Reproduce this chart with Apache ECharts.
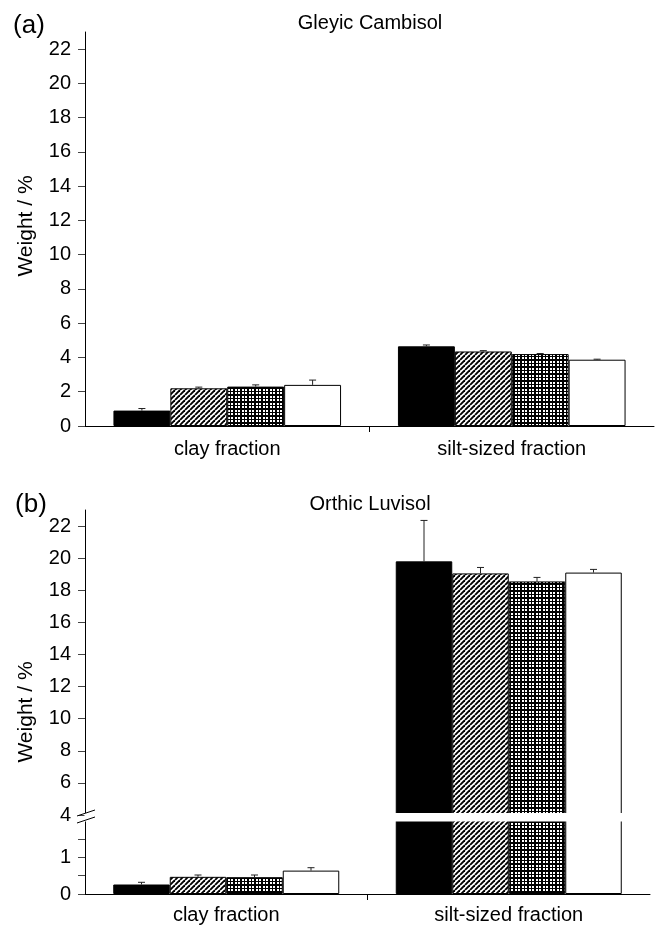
<!DOCTYPE html>
<html><head><meta charset="utf-8">
<script src="https://cdn.jsdelivr.net/npm/echarts@6/dist/echarts.min.js"></script>
<style>html,body{margin:0;padding:0;background:#fff}#c{width:658px;height:925px}</style>
</head><body><div id="c"></div>
<script>
// ---- data ----
const categories = ['clay fraction', 'silt-sized fraction'];
// four treatments (black, hatched, checkered, white)
const cambisolClay = [0.9, 2.2, 2.3, 2.4];
const cambisolClayErr = [0.12, 0.07, 0.1, 0.28];
const cambisolSilt = [4.65, 4.35, 4.2, 3.87];
const cambisolSiltErr = [0.08, 0.05, 0.03, 0.03];
const luvisolClay = [0.26, 0.47, 0.46, 0.64];
const luvisolClayErr = [0.06, 0.05, 0.06, 0.08];
const luvisolSilt = [19.8, 19.05, 18.55, 19.1];
const luvisolSiltErr = [2.55, 0.37, 0.25, 0.2];
const cambisolTicks = [0, 2, 4, 6, 8, 10, 12, 14, 16, 18, 20, 22];
const luvisolUpperTicks = [4, 6, 8, 10, 12, 14, 16, 18, 20, 22];
const luvisolLowerTicks = [0, 0.5, 1, 1.5];
const luvisolLowerLabels = [0, 1];
const titles = ['Gleyic Cambisol', 'Orthic Luvisol'];
const panelLabels = ['(a)', '(b)'];
const yName = 'Weight / %';

// ---- patterns ----
function hatch() {
  const s = 5, c = document.createElement('canvas'); c.width = c.height = s;
  const x = c.getContext('2d'); x.fillStyle = '#fff'; x.fillRect(0, 0, s, s);
  x.strokeStyle = '#000'; x.lineWidth = 1.9;
  [-s, 0, s].forEach(o => { x.beginPath(); x.moveTo(o, s); x.lineTo(o + s, 0); x.stroke(); });
  return c;
}
function checker() {
  const s = 7, c = document.createElement('canvas'); c.width = c.height = s;
  const x = c.getContext('2d'); x.fillStyle = '#000'; x.fillRect(0, 0, s, s);
  x.fillStyle = '#fff';
  [[0, 2], [4, 2]].forEach(([a, w]) => [[0, 2], [4, 2]].forEach(([b, h]) => x.fillRect(a, b, w, h)));
  return c;
}
const fills = ['#000', { image: hatch(), repeat: 'repeat' }, { image: checker(), repeat: 'repeat' }, '#fff'];

const FONT = 'Arial, "Liberation Sans", sans-serif';
// grid 1 = upper part of broken axis (4 at y=815, 16.05 px/unit), grid 2 = lower part (36.65 px/unit)
const G = [
  { left: 85, top: 32, width: 569, height: 394, min: 0, max: 23 },
  { left: 85, top: 510, width: 565, height: 311, min: 3.626, max: 23 },
  { left: 85, top: 814, width: 565, height: 80.3, min: 0, max: 2.19 }
];

function barSeries(g, clay, silt) {
  return [0, 1, 2, 3].map(k => ({
    type: 'bar', xAxisIndex: g, yAxisIndex: g, clip: true, silent: true,
    barGap: '0%', barCategoryGap: '20%',
    data: [clay[k], silt[k]],
    itemStyle: { color: fills[k], borderColor: '#000', borderWidth: 1 }
  }));
}
function errSeries(g, clay, clayErr, silt, siltErr) {
  const d = [];
  [clay, silt].forEach((arr, ci) => {
    const errs = ci === 0 ? clayErr : siltErr;
    arr.forEach((v, k) => {
      if (v >= G[g].min && v + errs[k] <= G[g].max) d.push([ci, k, v, errs[k]]);
    });
  });
  return {
    type: 'custom', xAxisIndex: g, yAxisIndex: g, silent: true, z: 3,
    encode: { x: 0, y: 2 },
    data: d,
    renderItem: (p, api) => {
      const cat = api.value(0), k = api.value(1), m = api.value(2), e = api.value(3);
      const b = api.coord([cat, m]), t = api.coord([cat, m + e]);
      const bw = api.size([1, 0])[0] * 0.2;
      const x = b[0] + (k - 1.5) * bw;
      const st = { stroke: '#222', lineWidth: 1 };
      return { type: 'group', children: [
        { type: 'line', shape: { x1: x, y1: b[1], x2: x, y2: t[1] }, style: st },
        { type: 'line', shape: { x1: x - 3.5, y1: t[1], x2: x + 3.5, y2: t[1] }, style: st }
      ] };
    }
  };
}

const yAxisBase = (g, ticks, labels) => ({
  type: 'value', gridIndex: g, min: G[g].min, max: G[g].max, splitLine: { show: false },
  axisLine: { show: true, lineStyle: { color: '#000', width: 1 } },
  axisTick: { show: true, length: 7, customValues: ticks, lineStyle: { color: '#444' } },
  axisLabel: { customValues: labels, fontSize: 20, color: '#000', fontFamily: FONT, margin: 14 }
});
const xAxisBase = (g, show, margin) => ({
  type: 'category', gridIndex: g, data: categories, show: show, boundaryGap: true,
  axisLine: { show: true, onZero: false, lineStyle: { color: '#000', width: 1 } },
  axisTick: { show: false },
  axisLabel: { fontSize: 20, color: '#000', fontFamily: FONT, margin: margin }
});
// helper axis that only draws the tick between the two categories
const xTickAxis = g => ({
  type: 'value', gridIndex: g, min: 0, max: categories.length, position: 'bottom',
  axisLine: { show: false, onZero: false }, splitLine: { show: false },
  axisTick: { show: true, length: 6, customValues: [1], lineStyle: { color: '#000' } },
  axisLabel: { show: false }
});

const chart = echarts.init(document.getElementById('c'), null, { renderer: 'canvas' });
chart.setOption({
  animation: false,
  backgroundColor: '#fff',
  grid: G.map(g => ({ left: g.left, top: g.top, width: g.width, height: g.height })),
  xAxis: [xAxisBase(0, true, 13), xAxisBase(1, false, 13), xAxisBase(2, true, 11), xTickAxis(0), xTickAxis(2)],
  yAxis: [
    yAxisBase(0, cambisolTicks, cambisolTicks),
    yAxisBase(1, luvisolUpperTicks, luvisolUpperTicks),
    yAxisBase(2, luvisolLowerTicks, luvisolLowerLabels)
  ],
  series: [
    ...barSeries(0, cambisolClay, cambisolSilt),
    errSeries(0, cambisolClay, cambisolClayErr, cambisolSilt, cambisolSiltErr),
    ...barSeries(1, luvisolClay, luvisolSilt),
    errSeries(1, luvisolClay, luvisolClayErr, luvisolSilt, luvisolSiltErr),
    ...barSeries(2, luvisolClay, luvisolSilt),
    errSeries(2, luvisolClay, luvisolClayErr, luvisolSilt, luvisolSiltErr)
  ]
});

// decorations: titles, panel letters, axis names, axis-break gap and marks
const y4 = chart.convertToPixel({ yAxisIndex: 1 }, 4);
const ax = G[1].left;
const gapTop = y4 - 2, gapBot = y4 + 6.5;
const txt = (text, x, y, size, rot) => ({
  type: 'text', x: x, y: y, rotation: rot || 0, z: 10,
  style: { text: text, fill: '#000', font: size + 'px ' + FONT, align: 'center', verticalAlign: 'middle' }
});
const ln = (x1, y1, x2, y2) => ({ type: 'line', z: 11, shape: { x1, y1, x2, y2 }, style: { stroke: '#000', lineWidth: 1 } });
chart.setOption({
  graphic: [
    txt(panelLabels[0], 29, 26, 26),
    txt(titles[0], 370, 23, 20),
    txt(panelLabels[1], 31, 505, 26),
    txt(titles[1], 370, 504, 20),
    txt(yName, 26, 226, 21, Math.PI / 2),
    txt(yName, 26, 712, 21, Math.PI / 2),
    { type: 'rect', z: 10, shape: { x: ax - 0.5, y: gapTop, width: 658 - ax, height: gapBot - gapTop }, style: { fill: '#fff' } },
    ln(ax - 8, y4 + 1, ax + 10, y4 - 5),
    ln(ax - 8, y4 + 8, ax + 10, y4 + 2)
  ]
});
</script></body></html>
